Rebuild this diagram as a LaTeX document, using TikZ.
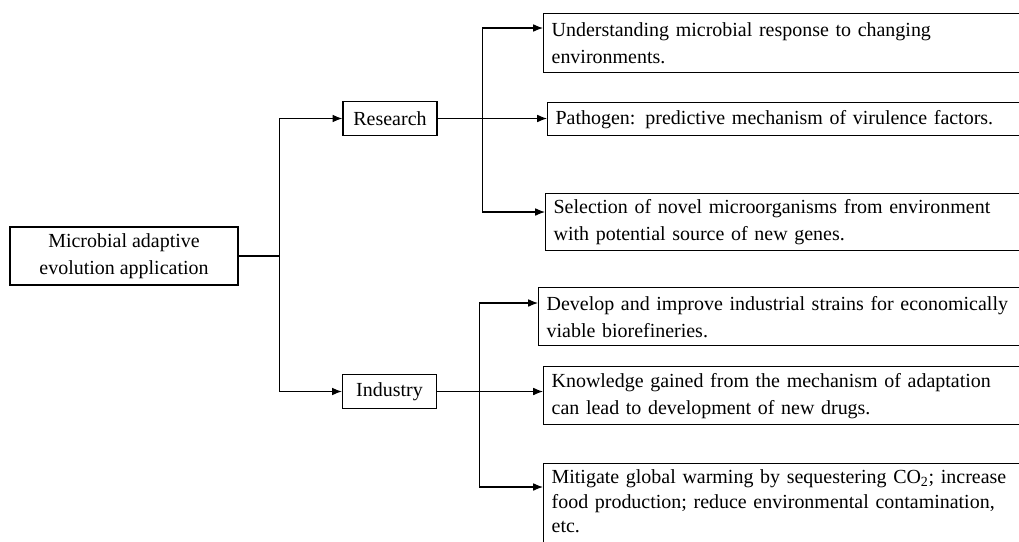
\documentclass[tikz,border=0pt]{standalone}
\usepackage{fontspec}
\setmainfont{Liberation Serif}
\usetikzlibrary{arrows.meta,calc}
\tikzset{
  box/.style={draw,line width=0.9pt,inner xsep=0.2cm,inner ysep=0.1cm,font=\fontsize{14.2}{19.2}\selectfont},
  topbox/.style={box,minimum width=2.35cm,minimum height=0.84cm},
  textbox/.style={box,anchor=north west,text width=12.2cm,align=left},
  link/.style={line width=0.8pt,-{Latex[length=7pt,width=5.5pt]}}
}
\begin{document}
\begin{tikzpicture}[x=0.025cm,y=-0.025cm]
        \useasboundingbox (0,0) rectangle (1019,541);
        \clip (0,0) rectangle (1019,541);

        \node[box,align=center,minimum width=5.7cm,minimum height=1.45cm] (app) at (124,256) {Microbial adaptive\\evolution application};
        \node[topbox] (res) at (390,118.5) {Research};
        \node[topbox] (ind) at (389.5,391.5) {Industry};

        \node[textbox,minimum height=1.475cm] (und) at (543,13) {Understanding microbial response to changing\\environments.};
        \node[textbox,minimum height=0.825cm] (path) at (547,102) {Pathogen: predictive mechanism of virulence factors.};
        \node[textbox,minimum height=1.425cm] (sel) at (545,193) {Selection of novel microorganisms from environment\\with potential source of new genes.};
        \node[textbox,minimum height=1.45cm] (dev) at (538,287) {Develop and improve industrial strains for economically\\viable biorefineries.};
        \node[textbox,minimum height=1.45cm] (know) at (543,366) {Knowledge gained from the mechanism of adaptation\\can lead to development of new drugs.};
        \node[textbox,inner ysep=0.15cm,text depth=2cm,font=\fontsize{14.2}{17.6}\selectfont] (miti) at (543,463) {Mitigate global warming by sequestering CO\textsubscript{2}; increase\\food production; reduce environmental contamination,\\etc.};

        \draw[line width=0.8pt] (app.east) -- ++(41,0) coordinate (fork);
        \draw[link] (fork) |- (res.west);
        \draw[link] (fork) |- (ind.west);

        \draw[link] (res.east) -- ++(45,0) |- ($(und.north west)+(0,15)$);
        \draw[link] (res.east) -- (path.west |- res.east);
        \draw[link] (res.east) -- ++(45,0) |- ($(sel.north west)+(0,19)$);

        \draw[link] (ind.east) -- ++(42,0) |- ($(dev.north west)+(0,16)$);
        \draw[link] (ind.east) -- (know.west |- ind.east);
        \draw[link] (ind.east) -- ++(42,0) |- ($(miti.north west)+(0,24)$);
    \end{tikzpicture}
\end{document}
